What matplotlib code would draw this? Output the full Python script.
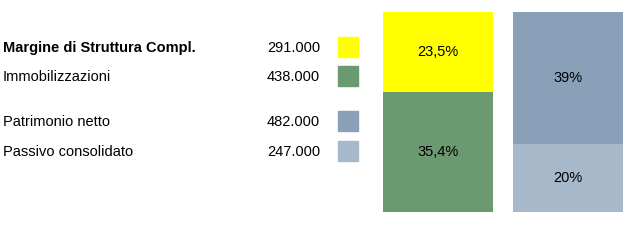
import matplotlib.pyplot as plt
from matplotlib.patches import Rectangle

plt.rcParams['font.family'] = ['Liberation Sans', 'DejaVu Sans']

# legend rows (top to bottom)
labels = ['Margine di Struttura Compl.', 'Immobilizzazioni', 'Patrimonio netto', 'Passivo consolidato']
values = [291, 438, 482, 247]
value_text = ['291.000', '438.000', '482.000', '247.000']
colors = ['#FFFF00', '#6B9970', '#8AA0B8', '#A8B8CB']
pct_text = ['23,5%', '35,4%', '39%', '20%']

W, H = 625, 247
fig = plt.figure(figsize=(W / 100, H / 100), dpi=100)

# legend on the left
row_y = [48, 77, 122, 152]
for i, lab in enumerate(labels):
    y = 1 - row_y[i] / H
    fig.text(3 / W, y, lab, fontsize=10.5, va='center', ha='left',
             fontweight='bold' if i == 0 else 'normal')
    fig.text(320 / W, y, value_text[i], fontsize=10.5, va='center', ha='right')
    fig.patches.append(Rectangle((338 / W, y - 9 / H), 20 / W, 20 / H,
                                 color=colors[i], transform=fig.transFigure))

# stacked bars
ax = fig.add_axes([383 / W, 35 / H, 242 / W, 200 / H])
w = 110 / 130
ax.bar(0, values[1], width=w, color=colors[1], align='center')
ax.bar(0, values[0], width=w, bottom=values[1], color=colors[0])
ax.bar(1, values[3], width=w, color=colors[3])
ax.bar(1, values[2], width=w, bottom=values[3], color=colors[2])

ax.text(0, values[1] + values[0] / 2, pct_text[0], ha='center', va='center', fontsize=10.5)
ax.text(0, values[1] / 2, pct_text[1], ha='center', va='center', fontsize=10.5)
ax.text(1, values[3] + values[2] / 2, pct_text[2], ha='center', va='center', fontsize=10.5)
ax.text(1, values[3] / 2, pct_text[3], ha='center', va='center', fontsize=10.5)

ax.set_xlim(-w / 2, -w / 2 + 242 / 130)
ax.set_ylim(0, values[0] + values[1])
ax.axis('off')

fig.savefig('out.png', dpi=100)
